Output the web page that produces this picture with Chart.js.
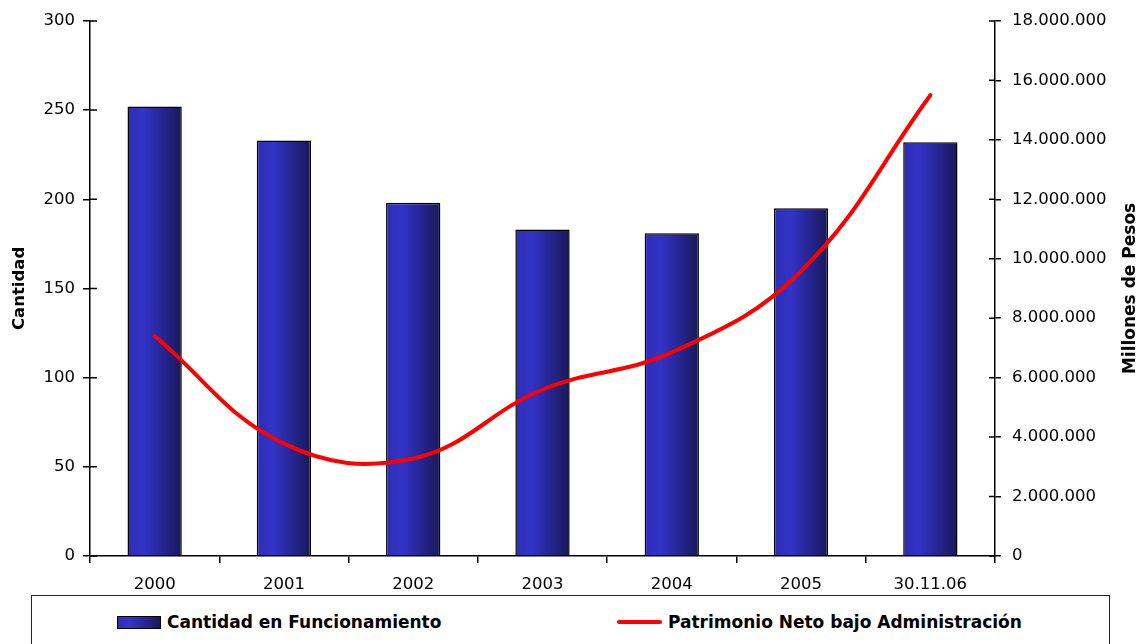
<!DOCTYPE html>
<html>
<head>
<meta charset="utf-8">
<script src="https://cdn.jsdelivr.net/npm/chart.js@4"></script>
<style>
  body { margin: 0; background: #fff; font-family: 'DejaVu Sans', sans-serif; }
  #wrap { position: relative; width: 1142px; height: 644px; overflow: hidden; }
  #c { position: absolute; left: 0; top: 0; }
  #legend { position: absolute; left: 31px; top: 595px; width: 1079px; height: 70px;
            border: 1.5px solid #222; box-sizing: border-box; }
  .item { position: absolute; top: 16px; font-weight: bold; font-size: 17px; line-height: 20px;
          display: flex; align-items: center; white-space: nowrap; color: #000; }
  .swatch-bar { width: 42px; height: 11px; border: 1px solid #000; margin-right: 6px;
                background: linear-gradient(90deg, #2e2eb4 0%, #3333c8 30%, #18185a 100%); }
  .swatch-line { width: 45px; height: 4px; background: #ff0000; border-radius: 2px; margin-right: 6px; }
</style>
</head>
<body>
<div id="wrap">
  <canvas id="c" width="1142" height="595"></canvas>
  <div id="legend">
    <div class="item" style="left:85px"><span class="swatch-bar"></span>Cantidad en Funcionamiento</div>
    <div class="item" style="left:585px"><span class="swatch-line"></span>Patrimonio Neto bajo Administración</div>
  </div>
</div>
<script>
    // datos
    const years = ['2000', '2001', '2002', '2003', '2004', '2005', '30.11.06'];
    const cantidad = [252, 233, 198, 183, 181, 195, 232];
    const patrimonio = [7400000, 3780000, 3280000, 5600000, 6850000, 9580000, 15500000];
    const leftTicks = [0, 50, 100, 150, 200, 250, 300];
    const rightTicks = [0, 2000000, 4000000, 6000000, 8000000, 10000000, 12000000, 14000000, 16000000, 18000000];

    Chart.defaults.font.family = "'DejaVu Sans', sans-serif";
    Chart.defaults.color = '#000';

    function puntos(v) {
        return String(v).replace(/\B(?=(\d{3})+(?!\d))/g, '.');
    }

    function barFill(ctx) {
        const chart = ctx.chart;
        if (!chart.chartArea || ctx.type !== 'data') return '#3333c8';
        const xs = chart.scales.x;
        const cx = xs.getPixelForValue(ctx.dataIndex);
        const w = xs.width / years.length * 0.42;
        const g = chart.ctx.createLinearGradient(cx - w / 2, 0, cx + w / 2, 0);
        g.addColorStop(0, '#2e2eb4');
        g.addColorStop(0.3, '#3333c8');
        g.addColorStop(1, '#18185a');
        return g;
    }

    // marcas hacia adentro + título del eje derecho
    const extras = {
        id: 'extras',
        afterDraw(chart) {
            const c = chart.ctx;
            const y = chart.scales.y, y1 = chart.scales.y1;
            c.save();
            c.strokeStyle = '#000';
            c.lineWidth = 1.5;
            c.beginPath();
            y.ticks.forEach(t => {
                const py = y.getPixelForValue(t.value);
                c.moveTo(y.right, py); c.lineTo(y.right + 7, py);
            });
            y1.ticks.forEach(t => {
                const py = y1.getPixelForValue(t.value);
                c.moveTo(y1.left, py); c.lineTo(y1.left - 6, py);
            });
            c.stroke();
            c.translate(1131, (chart.chartArea.top + chart.chartArea.bottom) / 2);
            c.rotate(-Math.PI / 2);
            c.font = "bold 17px 'DejaVu Sans', sans-serif";
            c.fillStyle = '#000';
            c.textAlign = 'center';
            c.textBaseline = 'middle';
            c.fillText('Millones de Pesos', 0, 0);
            c.restore();
        }
    };

    new Chart(document.getElementById('c'), {
        type: 'bar',
        data: {
            labels: years,
            datasets: [
                {
                    type: 'line',
                    label: 'Patrimonio Neto bajo Administración',
                    data: patrimonio,
                    yAxisID: 'y1',
                    borderColor: '#ff0000',
                    borderWidth: 4,
                    borderCapStyle: 'round',
                    pointRadius: 0,
                    tension: 0.4,
                    fill: false,
                    order: 0
                },
                {
                    label: 'Cantidad en Funcionamiento',
                    data: cantidad,
                    yAxisID: 'y',
                    backgroundColor: barFill,
                    borderColor: '#000',
                    borderWidth: 1.5,
                    categoryPercentage: 1,
                    barPercentage: 0.42,
                    order: 1
                }
            ]
        },
        options: {
            responsive: false,
            animation: false,
            layout: { padding: { top: 19, left: 0, right: 0, bottom: 0 } },
            plugins: { legend: { display: false }, tooltip: { enabled: false } },
            scales: {
                x: {
                    afterFit: s => { s.height = 39; },
                    grid: { drawOnChartArea: false, color: '#000', tickLength: 7, lineWidth: 1.5 },
                    border: { color: '#000', width: 1.5 },
                    ticks: { font: { size: 16.5 }, padding: 12, maxRotation: 0 }
                },
                y: {
                    position: 'left',
                    min: 0, max: 300,
                    afterFit: s => { s.width = 90; },
                    afterBuildTicks: s => { s.ticks = leftTicks.map(v => ({ value: v })); },
                    grid: { drawOnChartArea: false, color: '#000', tickLength: 7, lineWidth: 1.5 },
                    border: { color: '#000', width: 1.5 },
                    ticks: { font: { size: 16.5 }, padding: 8 },
                    title: { display: true, text: 'Cantidad', font: { size: 16.5, weight: 'bold' }, padding: { top: 10, bottom: 0 } }
                },
                y1: {
                    position: 'right',
                    min: 0, max: 18000000,
                    afterFit: s => { s.width = 147; },
                    afterBuildTicks: s => { s.ticks = rightTicks.map(v => ({ value: v })); },
                    grid: { drawOnChartArea: false, color: '#000', tickLength: 6, lineWidth: 1.5 },
                    border: { color: '#000', width: 1.5 },
                    ticks: { font: { size: 16.5 }, padding: 11, callback: v => puntos(v) }
                }
            }
        },
        plugins: [extras]
    });
</script>
</body>
</html>
